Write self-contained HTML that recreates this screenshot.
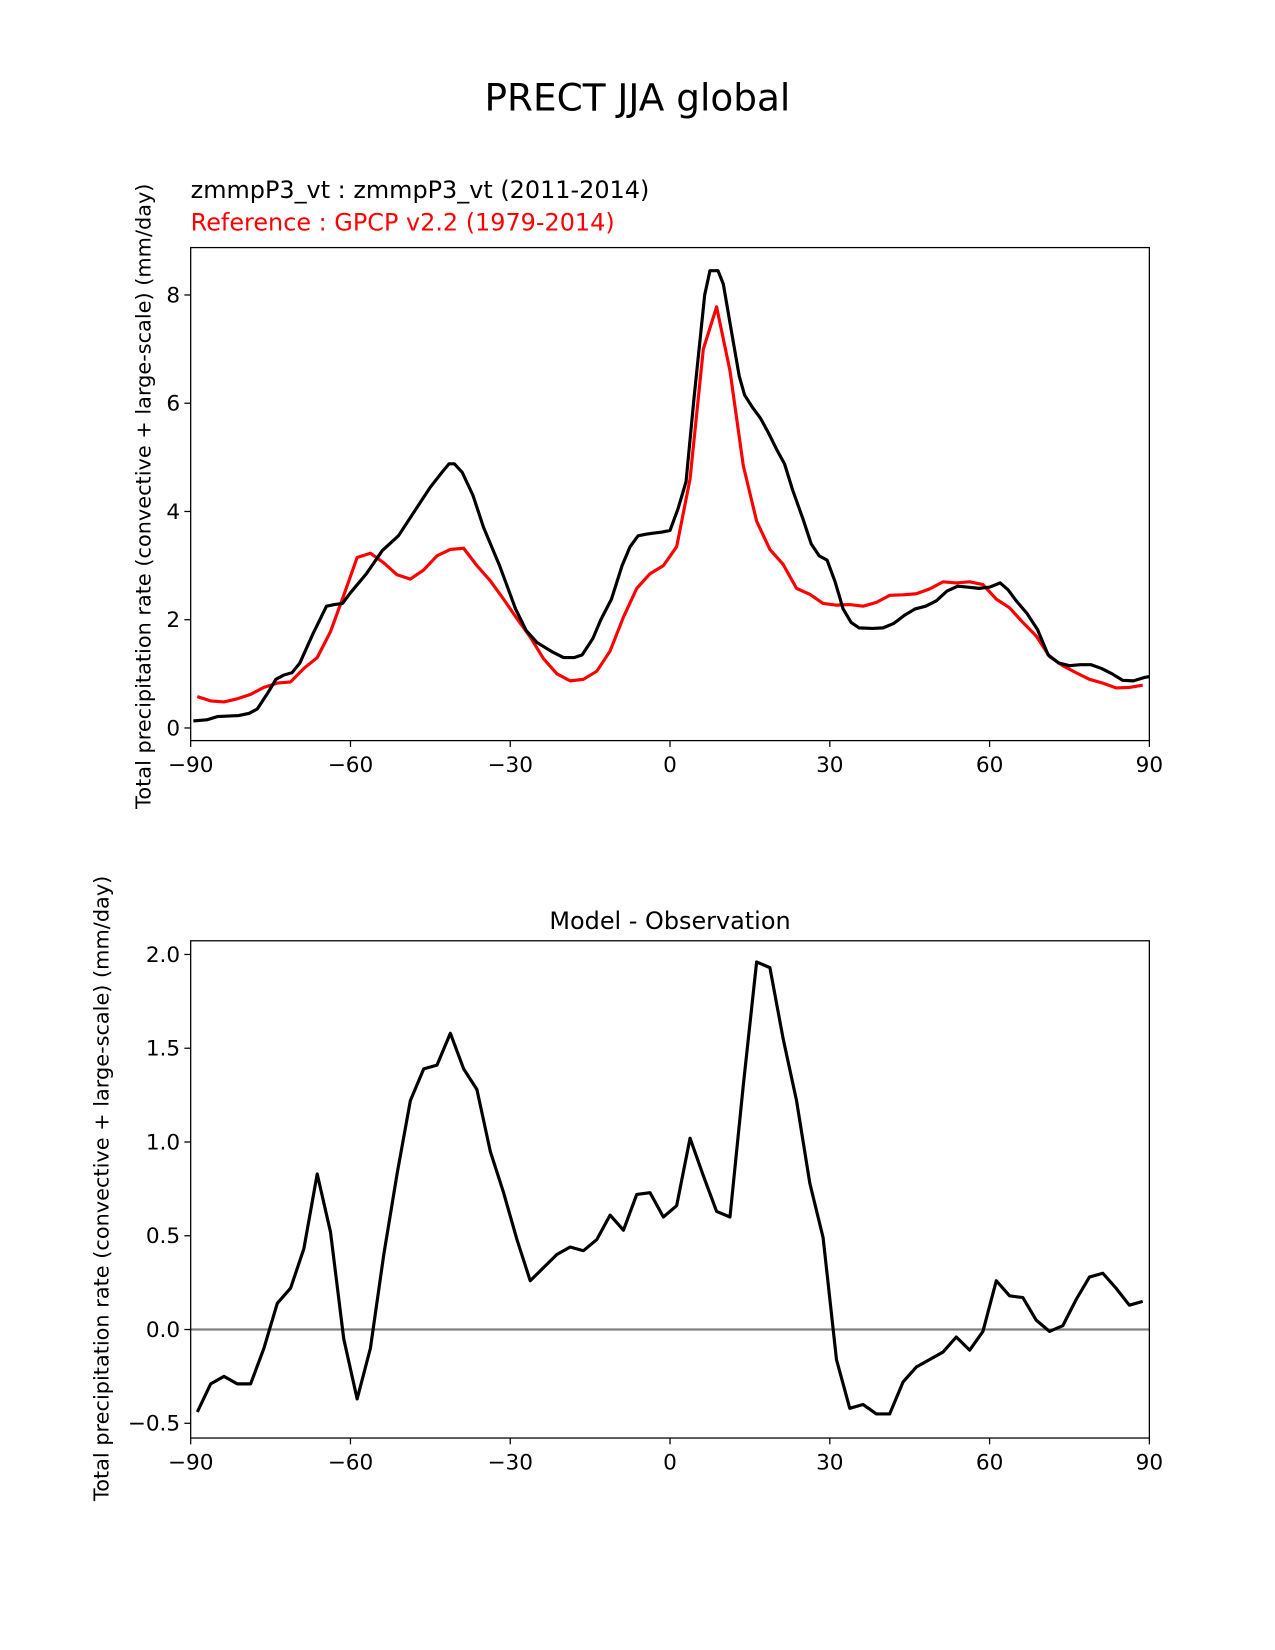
<!DOCTYPE html>
<html><head><meta charset="utf-8"><style>
body{margin:0;background:#fff}
svg{display:block;font-family:"DejaVu Sans","Liberation Sans",sans-serif}
</style></head><body>
<svg id="fig" width="1275" height="1650" viewBox="0 0 1275 1650">
<g transform="scale(1.0535)">
<text x="605" y="105" font-size="35.5" text-anchor="middle">PRECT JJA global</text>
<text x="181" y="188" font-size="22.7">zmmpP3_vt : zmmpP3_vt (2011-2014)</text>
<text x="181" y="219" font-size="22.7" fill="#ff0000">Reference : GPCP v2.2 (1979-2014)</text>
<text x="636" y="882" font-size="22.7" text-anchor="middle">Model - Observation</text>
<text transform="translate(143,471) rotate(-90)" font-size="19.8" text-anchor="middle">Total precipitation rate (convective + large-scale) (mm/day)</text>
<text transform="translate(103,1128) rotate(-90)" font-size="19.8" text-anchor="middle">Total precipitation rate (convective + large-scale) (mm/day)</text>
<g id="top"></g>
<g id="bot"></g>
</g>
</svg>
<script>
const xTicks=[-90,-60,-30,0,30,60,90];
const topYTicks=[0,2,4,6,8];
const botYTicks=[-0.5,0.0,0.5,1.0,1.5,2.0];
const botYLabels=["\u22120.5","0.0","0.5","1.0","1.5","2.0"];
const obsLat=[];for(let i=0;i<72;i++)obsLat.push(-88.75+2.5*i);
const obsVals=[0.58,0.50,0.48,0.54,0.62,0.75,0.83,0.85,1.10,1.30,1.78,2.45,3.15,3.23,3.05,2.83,2.75,2.92,3.18,3.30,3.32,3.00,2.72,2.38,2.02,1.68,1.28,1.00,0.87,0.90,1.05,1.42,2.05,2.58,2.85,3.00,3.35,4.60,7.00,7.78,6.60,4.85,3.82,3.30,3.02,2.58,2.47,2.30,2.27,2.28,2.25,2.32,2.45,2.46,2.48,2.57,2.70,2.68,2.70,2.65,2.38,2.22,1.95,1.70,1.32,1.15,1.02,0.90,0.83,0.74,0.75,0.79];
const diffVals=[-0.44,-0.29,-0.25,-0.29,-0.29,-0.10,0.14,0.22,0.43,0.83,0.52,-0.05,-0.37,-0.10,0.40,0.83,1.22,1.39,1.41,1.58,1.39,1.28,0.95,0.73,0.48,0.26,0.33,0.40,0.44,0.42,0.48,0.61,0.53,0.72,0.73,0.60,0.66,1.02,0.82,0.63,0.60,1.30,1.96,1.93,1.55,1.22,0.78,0.49,-0.16,-0.42,-0.40,-0.45,-0.45,-0.28,-0.20,-0.16,-0.12,-0.04,-0.11,-0.01,0.26,0.18,0.17,0.05,-0.01,0.02,0.16,0.28,0.30,0.22,0.13,0.15];
const modelLat=[-89.5,-87,-85,-83,-81,-79,-77.5,-75.5,-74,-72.5,-71,-69.5,-67,-64.5,-63,-61.5,-60,-57,-54,-51,-48,-45,-43,-41.5,-40.5,-39,-37,-35,-32,-29,-27,-25,-22,-20,-18,-16.5,-14.5,-13,-11,-9,-7.5,-6,-4.5,-3,-1.5,0,1.5,3,4.5,6.5,7.5,9,10,11.5,13,14,15.5,17,18.5,20,21.5,23,25,26.5,28,29.5,31,32.5,34,35.5,38,40,42,44,46,48,50,52,54,56,58,60,62,63.5,65,67,69,71,73,75,77,79,81,83,85,87,89,90];
const modelVals=[0.13,0.15,0.21,0.22,0.23,0.27,0.35,0.65,0.90,0.98,1.02,1.20,1.75,2.25,2.28,2.30,2.50,2.85,3.28,3.55,4.00,4.45,4.70,4.88,4.88,4.72,4.30,3.70,3.00,2.20,1.80,1.58,1.40,1.30,1.30,1.35,1.65,2.00,2.38,3.00,3.35,3.55,3.58,3.60,3.62,3.65,4.05,4.55,6.10,8.00,8.45,8.45,8.20,7.35,6.50,6.15,5.92,5.72,5.45,5.15,4.88,4.40,3.85,3.40,3.18,3.10,2.70,2.20,1.95,1.85,1.84,1.85,1.93,2.08,2.20,2.25,2.35,2.53,2.62,2.60,2.58,2.60,2.68,2.55,2.35,2.12,1.82,1.35,1.20,1.15,1.17,1.17,1.10,1.00,0.88,0.87,0.93,0.95];
const NS="http://www.w3.org/2000/svg";
function mk(p,t,a){const e=document.createElementNS(NS,t);for(const k in a)e.setAttribute(k,a[k]);p.appendChild(e);return e;}
const X0=181,X1=1091;
const xs=v=>X0+(v+90)/180*(X1-X0);
function axes(g,yTop,yBot,ys,yt,yl,nm){
  for(let i=0;i<xTicks.length;i++){const v=xTicks[i];const x=xs(v);
    const t=mk(g,'line',{x1:x,x2:x,y1:yBot,y2:yBot+6,stroke:'#000','stroke-width':1.2});
    
    const l=mk(g,'text',{x:x,y:yBot+30,'font-size':20.5,'text-anchor':'middle'});l.textContent=v<0?'\u2212'+(-v):String(v);
    }
  for(let i=0;i<yt.length;i++){const y=ys(yt[i]);
    const t=mk(g,'line',{x1:X0-6,x2:X0,y1:y,y2:y,stroke:'#000','stroke-width':1.2});
    
    const l=mk(g,'text',{x:X0-10,y:y+7,'font-size':20.5,'text-anchor':'end'});l.textContent=yl[i];
    }
}
function line(g,lx,vals,xs,ys,col,nm){
  const d=vals.map((v,i)=>(i?'L':'M')+xs(lx[i]).toFixed(1)+','+ys(v).toFixed(1)).join('');
  const p=mk(g,'path',{d:d,fill:'none',stroke:col,'stroke-width':3,'stroke-linejoin':'round'});
  
}
const gt=document.getElementById('top');
const ysT=v=>691-v*51.375;
axes(gt,235,703,ysT,topYTicks,topYTicks.map(String),'top');
line(gt,obsLat,obsVals,xs,ysT,'#ff0000','obs-line');
line(gt,modelLat,modelVals,xs,ysT,'#000','model-line');
const f1=mk(gt,'rect',{x:X0,y:235,width:X1-X0,height:468,fill:'none',stroke:'#000','stroke-width':1.2});

const gb=document.getElementById('bot');
const ysB=v=>1262-v*178;
axes(gb,893,1365,ysB,botYTicks,botYLabels,'bottom');
const z=mk(gb,'line',{x1:X0,x2:X1,y1:ysB(0),y2:ysB(0),stroke:'#808080','stroke-width':2.2});

line(gb,obsLat,diffVals,xs,ysB,'#000','diff-line');
const f2=mk(gb,'rect',{x:X0,y:893,width:X1-X0,height:472,fill:'none',stroke:'#000','stroke-width':1.2});

</script>
</body></html>
